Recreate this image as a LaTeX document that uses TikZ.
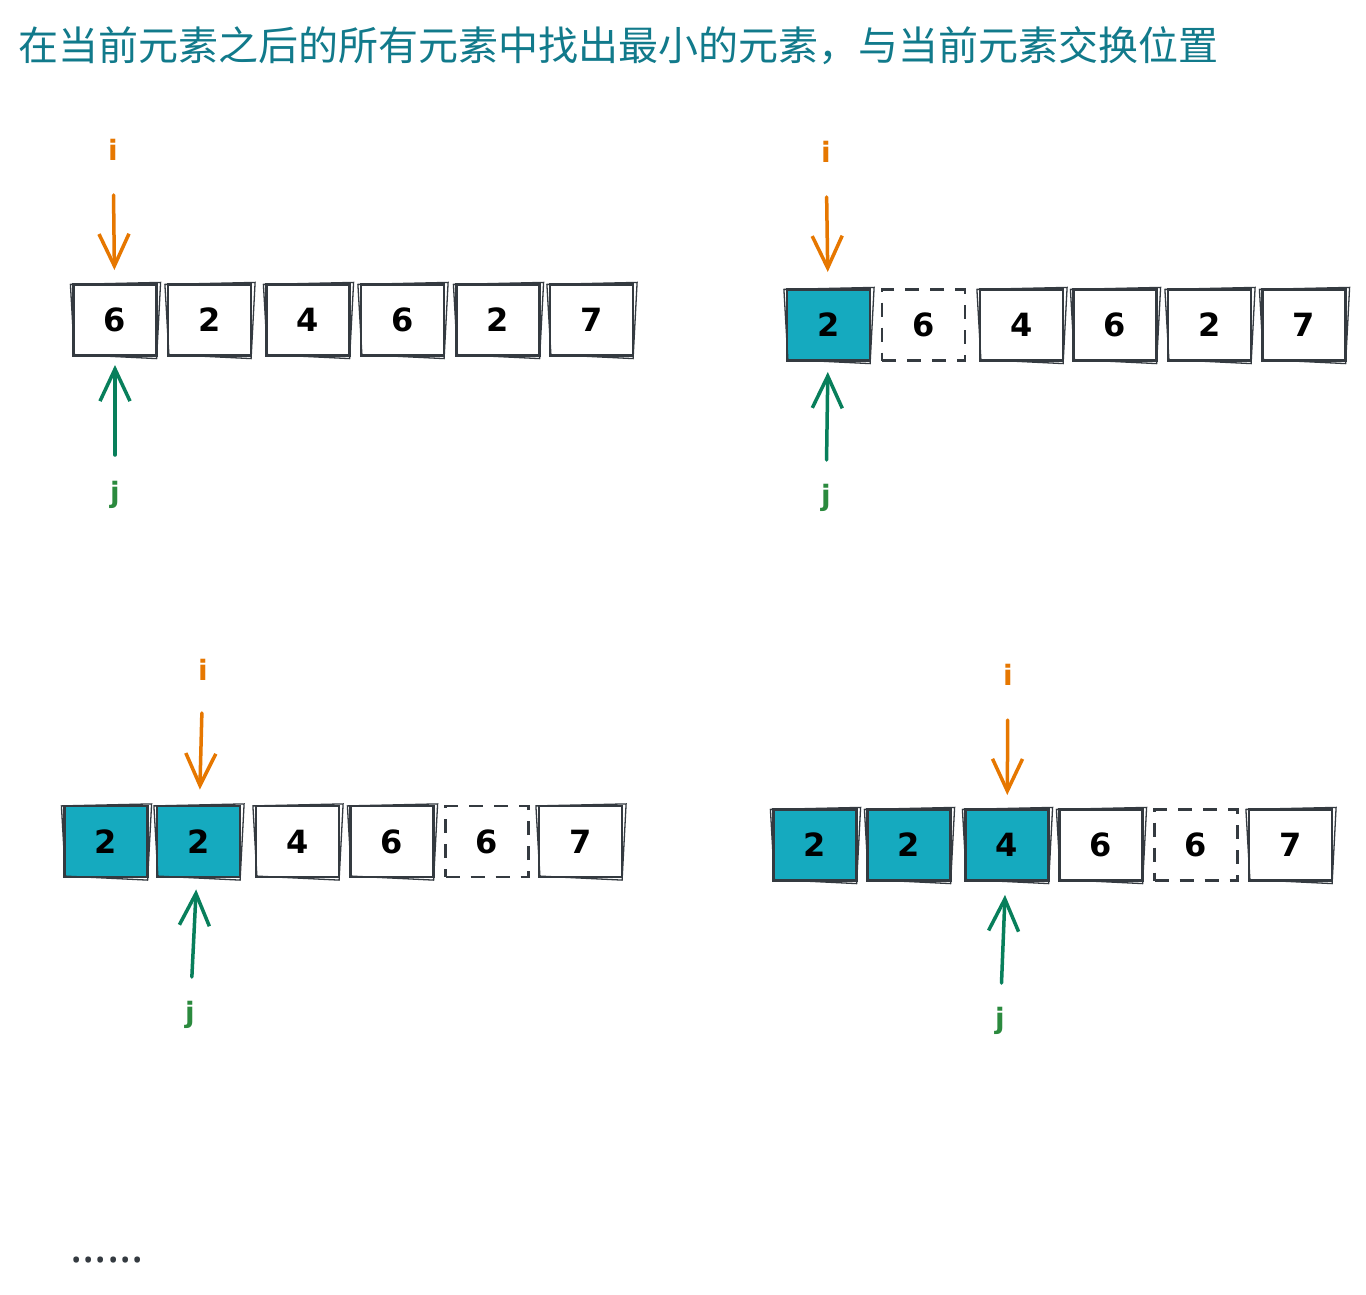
\documentclass[tikz,border=0pt]{standalone}
\usepackage{fontspec}
\setmainfont{Noto Sans}
\newfontfamily\cjk{Noto Sans CJK SC}
\newfontfamily\dejavu{DejaVu Sans}
\usetikzlibrary{arrows.meta}
\definecolor{titlecol}{HTML}{117A8B}
\definecolor{ink}{HTML}{343A40}
\definecolor{cellfill}{HTML}{15AABF}
\definecolor{iorange}{HTML}{E67700}
\definecolor{jarrow}{HTML}{087F5B}
\definecolor{jlabel}{HTML}{2B8A3E}
\tikzset{
  cell/.style={draw=ink, line width=2.2pt, minimum width=83pt, minimum height=71pt,
    inner sep=0pt, font=\dejavu\bfseries\fontsize{32}{32}\selectfont, text=black},
  filled/.style={fill=cellfill},
  dashedcell/.style={dash pattern=on 14pt off 11pt},
  sketch/.style={draw=ink, line width=1.3pt},
  ilab/.style={text=iorange, font=\dejavu\bfseries\fontsize{28}{28}\selectfont},
  jlab/.style={text=jlabel, font=\dejavu\bfseries\fontsize{28}{28}\selectfont},
  iarrow/.style={draw=iorange, line width=3.5pt, line cap=round,
    -{Straight Barb[length=32pt, width=30pt, line width=3.5pt]}},
  jarr/.style={draw=jarrow, line width=3.5pt, line cap=round,
    -{Straight Barb[length=32pt, width=30pt, line width=3.5pt]}},
}
\newcommand\cellbox[5]{%
  \node[cell,#5] (#1) at (#2,#3) {#4};
}
\newcommand\sketchy[1]{%
  \draw[sketch] ([shift={(-2,1)}]#1.north west) -- ([shift={(3,-1)}]#1.north east)
    -- ([shift={(-1,2)}]#1.south east) -- ([shift={(2,-2)}]#1.south west) -- cycle;
}
\begin{document}
\begin{tikzpicture}[x=1pt,y=-1pt]
\useasboundingbox (0,0) rectangle (1366,1295);
\fill[white] (0,0) rectangle (1366,1295);

\node[anchor=west, text=titlecol, font=\cjk\fontsize{40}{40}\selectfont, inner sep=0pt] (title) at (18,46)
  {在当前元素之后的所有元素中找出最小的元素，与当前元素交换位置};

% ---------- panel 1 ----------
\cellbox{a1}{115}{320}{6}{}
\cellbox{a2}{209.5}{320}{2}{}
\cellbox{a3}{308}{320}{4}{}
\cellbox{a4}{402.5}{320}{6}{}
\cellbox{a5}{498}{320}{2}{}
\cellbox{a6}{591.5}{320}{7}{}
\foreach \n in {a1,a2,a3,a4,a5,a6} {\sketchy{\n}}
\node[ilab] (ia) at (113,150) {i};
\node[jlab] (ja) at (115,495) {j};
\draw[iarrow, shorten <=45pt, shorten >=50pt] (ia.center) -- (a1.center);
\draw[jarr, shorten <=40pt, shorten >=45pt] (ja.center) -- (a1.center);

% ---------- panel 2 ----------
\cellbox{b1}{828.5}{325}{2}{filled}
\cellbox{b2}{923.5}{325}{6}{dashedcell}
\cellbox{b3}{1021.5}{325}{4}{}
\cellbox{b4}{1115}{325}{6}{}
\cellbox{b5}{1209.5}{325}{2}{}
\cellbox{b6}{1304}{325}{7}{}
\foreach \n in {b1,b3,b4,b5,b6} {\sketchy{\n}}
\node[ilab] (ib) at (826,152) {i};
\node[jlab] (jb) at (826,498) {j};
\draw[iarrow, shorten <=45pt, shorten >=53pt] (ib.center) -- (b1.center);
\draw[jarr, shorten <=38pt, shorten >=47pt] (jb.center) -- (b1.center);

% ---------- panel 3 ----------
\cellbox{c1}{106}{841.5}{2}{filled}
\cellbox{c2}{198.5}{841.5}{2}{filled}
\cellbox{c3}{297.5}{841.5}{4}{}
\cellbox{c4}{392}{841.5}{6}{}
\cellbox{c5}{487}{841.5}{6}{dashedcell}
\cellbox{c6}{580.5}{841.5}{7}{}
\foreach \n in {c1,c2,c3,c4,c6} {\sketchy{\n}}
\node[ilab] (ic) at (203,670) {i};
\node[jlab] (jc) at (190,1015) {j};
\draw[iarrow, shorten <=43pt, shorten >=52pt] (ic.center) -- (c2.center);
\draw[jarr, shorten <=38pt, shorten >=48pt] (jc.center) -- (c2.center);

% ---------- panel 4 ----------
\cellbox{d1}{815}{845}{2}{filled}
\cellbox{d2}{909}{845}{2}{filled}
\cellbox{d3}{1007}{845}{4}{filled}
\cellbox{d4}{1101}{845}{6}{}
\cellbox{d5}{1196}{845}{6}{dashedcell}
\cellbox{d6}{1290.5}{845}{7}{}
\foreach \n in {d1,d2,d3,d4,d6} {\sketchy{\n}}
\node[ilab] (id) at (1008,675) {i};
\node[jlab] (jd) at (1000,1021) {j};
\draw[iarrow, shorten <=45pt, shorten >=50pt] (id.center) -- (d3.center);
\draw[jarr, shorten <=38pt, shorten >=50pt] (jd.center) -- (d3.center);

% ---------- ellipsis ----------
\node[text=ink, font=\bfseries\fontsize{46}{46}\selectfont, inner sep=0pt, anchor=base] (more) at (107,1262) {......};
\end{tikzpicture}
\end{document}
